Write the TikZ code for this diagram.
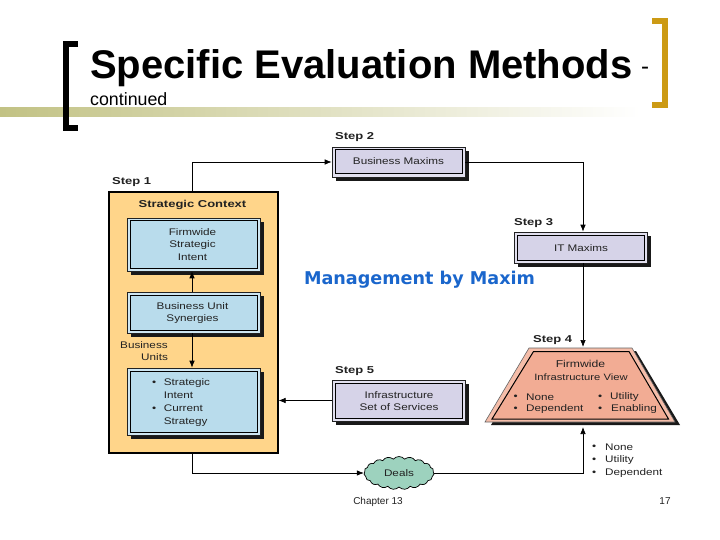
\documentclass[tikz,border=0pt]{standalone}
\usepackage{fontspec}
\setmainfont{Liberation Sans}
\newfontfamily\verd{DejaVu Sans}
\newfontfamily\widef[FakeStretch=1.22]{Liberation Sans}
\newfontfamily\widerf[FakeStretch=1.3]{Liberation Sans}
\usetikzlibrary{shapes.symbols,arrows.meta}
\definecolor{orangeC}{HTML}{FFD58A}
\definecolor{blueC}{HTML}{B9DCEC}
\definecolor{lavC}{HTML}{D6D3E8}
\definecolor{salmonC}{HTML}{F2AC94}
\definecolor{tealC}{HTML}{9DD2BE}
\definecolor{goldC}{HTML}{CC9A14}
\definecolor{oliveC}{HTML}{C2C284}
\definecolor{headC}{HTML}{1A66CC}
\definecolor{inkC}{HTML}{222222}
\newcommand{\dfont}{\widef\fontsize{9.6}{12.8}\selectfont}
\tikzset{
  x=1pt,y=-1pt,
  lbl/.style={font=\dfont,text=inkC,align=center,inner sep=0pt},
  steplbl/.style={font=\widerf\fontsize{10}{12}\selectfont\bfseries,text=inkC,inner sep=0pt,anchor=west},
  conn/.style={draw=black,line width=0.7pt,-{Latex[length=7pt,width=5.5pt]}},
  framebox/.style={draw=inkC,line width=0.6pt,inner sep=0pt,anchor=center},
}
% name, cx, cy, w, h, fill, shadow offset
\newcommand{\frameit}[7]{%
  \fill[black!90] (#2-#4/2+#7,#3-#5/2+#7) rectangle (#2+#4/2+#7,#3+#5/2+#7);
  \node[framebox,fill=#6!70!white,minimum width=#4pt,minimum height=#5pt] (#1) at (#2,#3) {};
  \draw[draw=black,line width=1pt,fill=#6] (#2-#4/2+3,#3-#5/2+3) rectangle (#2+#4/2-3,#3+#5/2-3);
}
\begin{document}
\begin{tikzpicture}
\useasboundingbox (0,0) rectangle (720,540);
\fill[white] (0,0) rectangle (720,540);
\coordinate (xl) at (192,0);
\coordinate (xr) at (583,0);
% band
\shade[left color=oliveC,right color=white] (0,107.5) rectangle (640,117);
% brackets
\draw[black,line width=6pt] (78,44.5) -- (66,44.5) -- (66,128.5) -- (78,128.5);
\draw[goldC,line width=6pt] (652,21.5) -- (665,21.5) -- (665,105.5) -- (652,105.5);
% title
\node[anchor=base west,inner sep=0pt,font=\fontsize{40}{42}\selectfont\bfseries] (title) at (90,79) {Specific Evaluation Methods};
\node[anchor=base west,inner sep=0pt,font=\fontsize{24}{26}\selectfont] (dash) at (641,75) {-};
\node[anchor=base west,inner sep=0pt,font=\fontsize{17.8}{20}\selectfont] (cont) at (90,105.5) {continued};
% strategic context panel
\node[draw=black,line width=1.2pt,fill=orangeC,inner sep=0pt,minimum width=169pt,minimum height=261pt] (ctx) at (193.5,322.5) {};
\node[steplbl] (s1) at (112,182) {Step 1};
\node[lbl,font=\widerf\fontsize{10}{12}\selectfont\bfseries] (sc) at (192.5,205) {Strategic Context};
\frameit{fi}{193.5}{244.5}{133}{53}{blueC}{4}
\frameit{bu}{193.5}{312.5}{133}{41}{blueC}{4}
\frameit{si}{193.5}{401.5}{133}{67}{blueC}{4}
\node[lbl] (fit) at (192.5,244.5) {Firmwide\\Strategic\\Intent};
\node[lbl] (but) at (192.5,313) {Business Unit\\Synergies};
\node[lbl,anchor=north west] (sit) at (152,376.5) {\begin{tabular}{@{}l@{\hspace{7.5pt}}l@{}}•&Strategic\\&Intent\\•&Current\\&Strategy\end{tabular}};
\node[lbl,anchor=west] (b1) at (120,345) {Business};
\node[lbl,anchor=west] (b2) at (141,357.5) {Units};
% right boxes
\frameit{bm}{398.5}{162}{133}{30}{lavC}{4}
\node[lbl] (bmt) at (398.5,161.5) {Business Maxims};
\node[steplbl] (s2) at (335,137) {Step 2};
\frameit{it}{580.5}{247.5}{133}{31}{lavC}{4}
\node[lbl] (itt) at (581,248.5) {IT Maxims};
\node[steplbl] (s3) at (514,223.5) {Step 3};
\frameit{iss}{398.5}{400.5}{133}{41}{lavC}{4}
\node[lbl] (isst) at (399,401) {Infrastructure\\Set of Services};
\node[steplbl] (s5) at (335,371) {Step 5};
% trapezoid
\fill[black!90] (535,351) -- (636,351) -- (680,425) -- (491,425) -- cycle;
\draw[draw=inkC!70,line width=0.6pt,fill=salmonC!80!white] (529,348) -- (632,348) -- (675,422) -- (485,422) -- cycle;
\draw[draw=black,line width=1pt,fill=salmonC] (533.5,351.5) -- (629,351.5) -- (668.5,419) -- (492,419) -- cycle;
\coordinate (trapt) at (583,347);
\coordinate (trapb) at (583,427);
\node[lbl,font=\widef\fontsize{10}{12}\selectfont] (ft) at (580.5,364) {Firmwide};
\node[lbl,font=\widef\fontsize{9.2}{12}\selectfont] (ftv) at (581,377) {Infrastructure View};
\node[lbl,anchor=west] (t1) at (513.5,397) {•};
\node[lbl,anchor=west] (t2) at (526,397) {None};
\node[lbl,anchor=west] (t3) at (513.5,409.5) {•};
\node[lbl,anchor=west] (t4) at (526,409.5) {Dependent};
\node[lbl,anchor=west] (t5) at (598,397) {•};
\node[lbl,anchor=west] (t6) at (610,397) {Utility};
\node[lbl,anchor=west] (t7) at (598,409.5) {•};
\node[lbl,anchor=west] (t8) at (611,409.5) {Enabling};
\node[steplbl] (s4) at (533,340) {Step 4};
% deals
\node[cloud,cloud puffs=19,cloud puff arc=100,aspect=2.1,draw=black,line width=0.7pt,fill=tealC,minimum width=70pt,minimum height=33pt,inner sep=0pt] (deals) at (399,473) {};
\node[lbl] (dt) at (399,473) {Deals};
% list
\node[lbl,anchor=west] (l1) at (592,447.5) {•};
\node[lbl,anchor=west] (l2) at (605,447.5) {None};
\node[lbl,anchor=west] (l3) at (592,460.5) {•};
\node[lbl,anchor=west] (l4) at (605,460.5) {Utility};
\node[lbl,anchor=west] (l5) at (592,473.5) {•};
\node[lbl,anchor=west] (l6) at (605,473.5) {Dependent};
% heading
\node[inner sep=0pt,font=\verd\fontsize{17.6}{20}\selectfont\bfseries,text=headC] (mm) at (419.5,280) {Management by Maxim};
% connectors
\draw[conn] (ctx.north -| xl) |- (bm.west);
\draw[conn] (bm.east) -| (it.north -| xr);
\draw[conn] (it.south -| xr) -- (trapt);
\draw[conn] (bu.north -| xl) -- (fi.south -| xl);
\draw[conn] (bu.south -| xl) -- (si.north -| xl);
\draw[conn] (iss.west) -- (ctx.east |- iss.west);
\draw[conn] (ctx.south -| xl) |- (deals.west);
\draw[conn] (deals.east) -| (trapb);
% footer
\node[inner sep=0pt,font=\fontsize{10}{12}\selectfont,text=inkC] (ch) at (378,501.5) {Chapter 13};
\node[inner sep=0pt,font=\fontsize{10}{12}\selectfont,text=inkC] (pg) at (665,501.5) {17};
\end{tikzpicture}
\end{document}
